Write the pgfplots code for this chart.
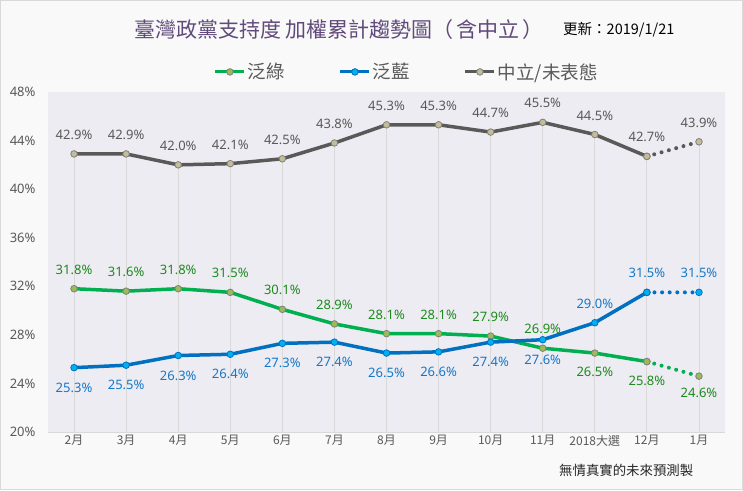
\documentclass[border=0pt]{standalone}
\usepackage{pgfplots}
\usepackage{pgfplotstable}
\pgfplotsset{compat=1.18}
\usepackage{fontspec}
\setmainfont{Noto Sans}
\newfontfamily\cjk{Noto Sans CJK TC}
\definecolor{outerbg}{RGB}{249,249,249}
\definecolor{bordergray}{RGB}{217,217,217}
\definecolor{plotbg}{RGB}{238,236,243}
\definecolor{drop}{RGB}{217,217,217}
\definecolor{txtgray}{RGB}{89,89,89}
\definecolor{titlepurple}{RGB}{96,74,123}
\definecolor{lgreen}{RGB}{0,176,80}
\definecolor{mgreen}{RGB}{155,187,89}
\definecolor{tgreen}{RGB}{28,138,28}
\definecolor{lblue}{RGB}{0,112,192}
\definecolor{mblue}{RGB}{0,176,240}
\definecolor{tblue}{RGB}{20,120,200}
\definecolor{lgray}{RGB}{89,89,89}
\definecolor{mgray}{RGB}{196,189,151}
\definecolor{mborder}{RGB}{127,127,127}

\pgfplotstableread{
x y dy
0 42.9 19
1 42.9 19
2 42.0 19
3 42.1 19
4 42.5 19
5 43.8 19
6 45.3 19
7 45.3 19
8 44.7 19
9 45.5 19
10 44.5 19
11 42.7 19
12 43.9 19
}\graydata

\pgfplotstableread{
x y dy
0 31.8 19
1 31.6 19
2 31.8 19
3 31.5 19
4 30.1 19
5 28.9 19
6 28.1 19
7 28.1 19
8 27.9 19
9 26.9 19
10 26.5 -19
11 25.8 -19
12 24.6 -17
}\greendata

\pgfplotstableread{
x y dy
0 25.3 -20
1 25.5 -20
2 26.3 -20
3 26.4 -20
4 27.3 -20
5 27.4 -20
6 26.5 -20
7 26.6 -20
8 27.4 -20
9 27.6 -20
10 29.0 19
11 31.5 19
12 31.5 19
}\bluedata

\begin{document}
\begin{tikzpicture}[x=1pt,y=1pt]
\useasboundingbox (0,0) rectangle (743,490);
\draw[bordergray, fill=outerbg, line width=1pt] (0.5,0.5) rectangle (742.5,489.5);
\node[anchor=west, inner sep=0pt, text=titlepurple, font=\cjk\fontsize{21}{24}\selectfont] at (134,460) {臺灣政黨支持度 加權累計趨勢圖（\hspace{3pt}含中立\hspace{3pt}）};
\node[anchor=west, inner sep=0pt, text=black, font=\cjk\fontsize{14.5}{17}\selectfont] at (563,460) {更新：2019/1/21};
\node[anchor=west, inner sep=0pt, text=black!85, font=\cjk\fontsize{13.4}{16}\selectfont] at (559,20) {無情真實的未來預測製};
\begin{axis}[
  at={(48pt,58pt)}, anchor=south west,
  width=677pt, height=340pt, scale only axis,
  xmin=-0.5, xmax=12.5, ymin=20, ymax=48,
  axis background/.style={fill=plotbg},
  axis line style={draw=none},
  major tick length=0pt,
  xtick={0,...,12},
  xticklabels={2月,3月,4月,5月,6月,7月,8月,9月,10月,11月,2018大選,12月,1月},
  xticklabel style={font=\cjk\fontsize{12}{14}\selectfont, text=txtgray},
  ytick={20,24,28,32,36,40,44,48},
  yticklabels={20\%,24\%,28\%,32\%,36\%,40\%,44\%,48\%},
  yticklabel style={font=\fontsize{13}{15}\selectfont, text=txtgray, xshift=-9pt},
  /pgf/number format/assume math mode=true,
  legend columns=3,
  legend style={at={(0.53,1.059)}, anchor=center, draw=none, fill=none,
    font=\cjk\fontsize{18.5}{21}\selectfont, text=txtgray,
    /tikz/every even column/.append style={column sep=52pt}},
  legend image code/.code={\draw[mark repeat=2,mark phase=2,line width=3pt] plot coordinates {(0pt,0pt)(14.5pt,0pt)(29pt,0pt)};},
  after end axis/.code={\draw[drop, line width=1pt] (rel axis cs:0,0) -- (rel axis cs:1,0);},
]
% drop lines
\addplot[ycomb, draw=drop, line width=0.8pt, forget plot] table[x=x,y=y] \graydata;

% green
\addplot[lgreen, line width=3.5pt, mark=*, mark size=3.3pt, mark options={fill=mgreen, draw=mborder, line width=0.8pt}, restrict x to domain=0:11] table[x=x,y=y] \greendata;
\addlegendentry{泛綠}
\addplot[lgreen, line width=4pt, dash pattern=on 0pt off 7.6pt, line cap=round, mark=*, mark size=3.3pt, mark options={solid, fill=mgreen, draw=mborder, line width=0.8pt}, restrict x to domain=11:12, forget plot] table[x=x,y=y] \greendata;

% blue
\addplot[lblue, line width=3.5pt, mark=*, mark size=3.3pt, mark options={fill=mblue, draw=lblue, line width=0.8pt}, restrict x to domain=0:11] table[x=x,y=y] \bluedata;
\addlegendentry{泛藍}
\addplot[lblue, line width=4pt, dash pattern=on 0pt off 7.6pt, line cap=round, mark=*, mark size=3.3pt, mark options={solid, fill=mblue, draw=lblue, line width=0.8pt}, restrict x to domain=11:12, forget plot] table[x=x,y=y] \bluedata;

% gray
\addplot[lgray, line width=3.5pt, mark=*, mark size=3.3pt, mark options={fill=mgray, draw=mborder, line width=0.8pt}, restrict x to domain=0:11] table[x=x,y=y] \graydata;
\addlegendentry{中立/未表態}
\addplot[lgray, line width=4pt, dash pattern=on 0pt off 7.6pt, line cap=round, mark=*, mark size=3.3pt, mark options={solid, fill=mgray, draw=mborder, line width=0.8pt}, restrict x to domain=11:12, forget plot] table[x=x,y=y] \graydata;

% labels
\addplot[draw=none, forget plot, point meta=y,
  nodes near coords={\pgfmathprintnumber[fixed,fixed zerofill,precision=1]{\pgfplotspointmeta}\%},
  visualization depends on={\thisrow{dy}\as\dy},
  every node near coord/.append style={anchor=center, yshift=\dy, font=\fontsize{13}{15}\selectfont, text=txtgray}] table[x=x,y=y] \graydata;
\addplot[draw=none, forget plot, point meta=y,
  nodes near coords={\pgfmathprintnumber[fixed,fixed zerofill,precision=1]{\pgfplotspointmeta}\%},
  visualization depends on={\thisrow{dy}\as\dy},
  every node near coord/.append style={anchor=center, yshift=\dy, font=\fontsize{13}{15}\selectfont, text=tgreen}] table[x=x,y=y] \greendata;
\addplot[draw=none, forget plot, point meta=y,
  nodes near coords={\pgfmathprintnumber[fixed,fixed zerofill,precision=1]{\pgfplotspointmeta}\%},
  visualization depends on={\thisrow{dy}\as\dy},
  every node near coord/.append style={anchor=center, yshift=\dy, font=\fontsize{13}{15}\selectfont, text=tblue}] table[x=x,y=y] \bluedata;
\end{axis}
\end{tikzpicture}
\end{document}
